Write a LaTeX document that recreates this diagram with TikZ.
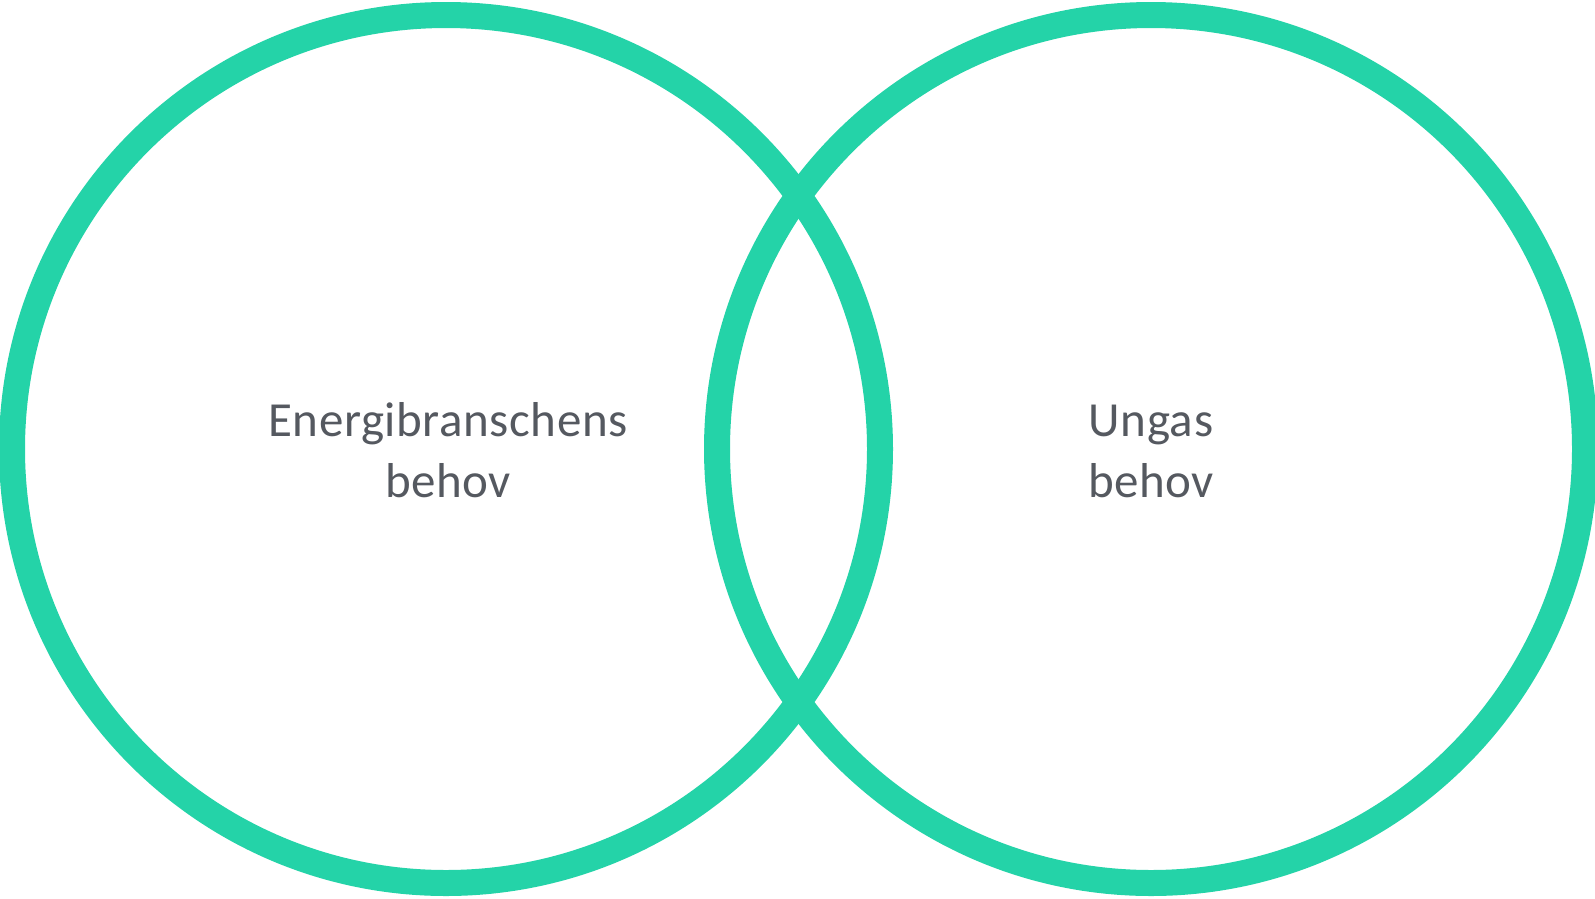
\documentclass[tikz,border=0pt]{standalone}
\usepackage{fontspec}
\setmainfont{Carlito}[LetterSpace=1.2]
\definecolor{ringgreen}{RGB}{36,211,168}
\definecolor{txtgray}{RGB}{85,89,96}
\begin{document}
\begin{tikzpicture}[x=1pt,y=-1pt,
  ring/.style={draw=ringgreen,line width=26pt},
  lbl/.style={text=txtgray,font=\fontsize{49}{61}\selectfont,anchor=base,inner sep=0pt}]
\useasboundingbox (0,0) rectangle (1595,898);
\clip (0,0) rectangle (1595,898);
\draw[ring] (446,449) circle[radius=434];
\draw[ring] (1151,449) circle[radius=434];
\node[lbl] (l1) at (448,436) {Energibranschens};
\node[lbl] (l2) at (448,497) {behov};
\node[lbl] (r1) at (1151,436) {Ungas};
\node[lbl] (r2) at (1151,497) {behov};
\end{tikzpicture}
\end{document}
